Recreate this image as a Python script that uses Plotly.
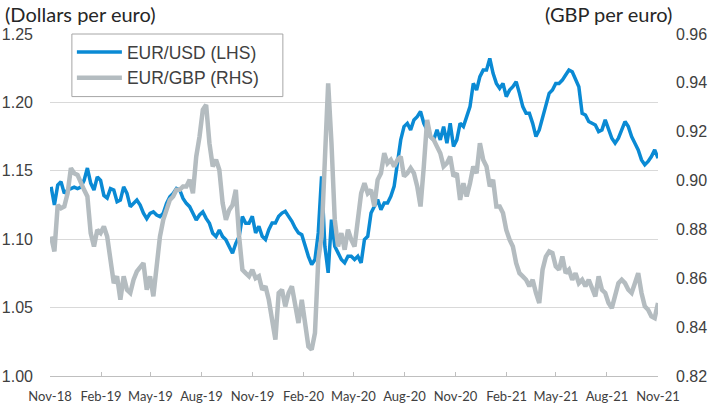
import pandas as pd
import plotly.graph_objects as go

# ---------------- data ----------------
start_date = "2018-11-03"
end_date = "2021-11-01"

eur_usd = [
    # Nov-18 .. May-19
    1.1383, 1.1250, 1.1395, 1.1420, 1.1335, 1.1360, 1.1370, 1.1380, 1.1370, 1.1380,
    1.1430, 1.1520, 1.1410, 1.1360, 1.1456, 1.1430, 1.1320, 1.1300, 1.1370, 1.1360,
    1.1274, 1.1286, 1.1383, 1.1335, 1.1238, 1.1260, 1.1286, 1.1250, 1.1190, 1.1150,
    # May-19 .. Oct-19
    1.1189, 1.1200, 1.1177, 1.1165, 1.1189, 1.1262, 1.1310, 1.1335, 1.1371, 1.1360,
    1.1298, 1.1262, 1.1238, 1.1189, 1.1140, 1.1177, 1.1200, 1.1152, 1.1116, 1.1043,
    1.1019, 1.1067, 1.1019, 1.0995, 1.0946, 1.0897, 1.0970, 1.1019, 1.1165, 1.1116,
    1.1116,
    # Oct-19 .. Apr-20
    1.1167, 1.1046, 1.1094, 1.1021, 1.0997, 1.1070, 1.1118, 1.1118, 1.1167, 1.1191,
    1.1204, 1.1167, 1.1131, 1.1082, 1.1046, 1.1033, 1.0948, 1.0875, 1.0815, 1.0851,
    1.1046, 1.1459, 1.0948, 1.0754, 1.1143, 1.0948, 1.0900, 1.0851, 1.0827, 1.0875,
    1.0875,
    # Apr-20 .. Oct-20
    1.0851, 1.0875, 1.0827, 1.0997, 1.1021, 1.1191, 1.1240, 1.1289, 1.1216, 1.1264,
    1.1264, 1.1313, 1.1386, 1.1580, 1.1726, 1.1823, 1.1847, 1.1799, 1.1872, 1.1896,
    1.1933, 1.1847, 1.1799, 1.1750, 1.1726, 1.1799, 1.1726, 1.1823, 1.1702, 1.1847,
    1.1677,
    # Oct-20 .. Apr-21
    1.1726, 1.1847, 1.1823, 1.1896, 1.1969, 1.2139, 1.2090, 1.2188, 1.2236, 1.2236,
    1.2321, 1.2212, 1.2139, 1.2103, 1.2139, 1.2042, 1.2090, 1.2115, 1.2151, 1.2066,
    1.1969, 1.1920, 1.1920, 1.1847, 1.1750, 1.1799, 1.1896, 1.1969, 1.2066, 1.2090,
    1.2139,
    # Apr-21 .. Nov-21
    1.2139, 1.2163, 1.2200, 1.2236, 1.2224, 1.2176, 1.2115, 1.1920, 1.1908, 1.1860,
    1.1847, 1.1835, 1.1787, 1.1799, 1.1872, 1.1799, 1.1738, 1.1702, 1.1738, 1.1799,
    1.1860, 1.1823, 1.1750, 1.1702, 1.1653, 1.1580, 1.1544, 1.1568, 1.1604, 1.1653,
    1.1592,
]

eur_gbp = [
    # Nov-18 .. May-19
    0.8771, 0.8710, 0.8900, 0.8887, 0.8894, 0.8948, 0.9051, 0.9030, 0.9023, 0.8989,
    0.8962, 0.8935, 0.8785, 0.8730, 0.8798, 0.8785, 0.8812, 0.8771, 0.8662, 0.8580,
    0.8608, 0.8512, 0.8608, 0.8553, 0.8540, 0.8594, 0.8628, 0.8649, 0.8662, 0.8553,
    # May-19 .. Oct-19
    0.8608, 0.8526, 0.8662, 0.8771, 0.8839, 0.8880, 0.8921, 0.8935, 0.8962, 0.8962,
    0.8976, 0.8976, 0.9003, 0.8948, 0.9098, 0.9180, 0.9290, 0.9310, 0.9153, 0.9058,
    0.9085, 0.9044, 0.8908, 0.8839, 0.8880, 0.8900, 0.8962, 0.8771, 0.8635, 0.8621,
    0.8608,
    # Oct-19 .. Apr-20
    0.8635, 0.8600, 0.8608, 0.8553, 0.8567, 0.8512, 0.8430, 0.8349, 0.8540, 0.8553,
    0.8485, 0.8540, 0.8567, 0.8485, 0.8417, 0.8512, 0.8417, 0.8321, 0.8308, 0.8376,
    0.8676, 0.8771, 0.9085, 0.9398, 0.9153, 0.8840, 0.8730, 0.8785, 0.8717, 0.8799,
    0.8758,
    # Apr-20 .. Oct-20
    0.8730, 0.8839, 0.8948, 0.8989, 0.8948, 0.8962, 0.8894, 0.9003, 0.9030, 0.9112,
    0.9071, 0.9085, 0.9058, 0.9085, 0.9098, 0.9017, 0.9030, 0.9051, 0.9030, 0.8976,
    0.8894, 0.9058, 0.9248, 0.9180, 0.9167, 0.9139, 0.9112, 0.9058, 0.9071, 0.9098,
    0.9017,
    # Oct-20 .. Apr-21
    0.9030, 0.8921, 0.8989, 0.8935, 0.8989, 0.9058, 0.9030, 0.9153, 0.9085, 0.9058,
    0.8976, 0.9003, 0.8894, 0.8894, 0.8867, 0.8798, 0.8758, 0.8730, 0.8662, 0.8621,
    0.8608, 0.8594, 0.8567, 0.8594, 0.8540, 0.8499, 0.8635, 0.8689, 0.8710, 0.8703,
    0.8649,
    # Apr-21 .. Nov-21
    0.8635, 0.8689, 0.8621, 0.8635, 0.8594, 0.8621, 0.8580, 0.8594, 0.8567, 0.8594,
    0.8553, 0.8526, 0.8608, 0.8553, 0.8540, 0.8499, 0.8478, 0.8526, 0.8580, 0.8594,
    0.8580, 0.8553, 0.8540, 0.8580, 0.8621, 0.8540, 0.8485, 0.8471, 0.8444, 0.8437,
    0.8499,
]

tick_dates = ["2018-11-01", "2019-02-01", "2019-05-01", "2019-08-01", "2019-11-01",
              "2020-02-01", "2020-05-01", "2020-08-01", "2020-11-01", "2021-02-01",
              "2021-05-01", "2021-08-01", "2021-11-01"]
tick_labels = ["Nov-18", "Feb-19", "May-19", "Aug-19", "Nov-19", "Feb-20", "May-20",
               "Aug-20", "Nov-20", "Feb-21", "May-21", "Aug-21", "Nov-21"]

left_ticks = [1.00, 1.05, 1.10, 1.15, 1.20, 1.25]
right_ticks = [0.82, 0.84, 0.86, 0.88, 0.90, 0.92, 0.94, 0.96]

series_names = ["EUR/USD (LHS)", "EUR/GBP (RHS)"]
left_title = "(Dollars per euro)"
right_title = "(GBP per euro)"

# ---------------- figure ----------------
dates = pd.date_range(start_date, end_date, periods=len(eur_usd))

BLUE = "#0a8ad4"
GREY = "#b4bcc0"
TXT = "#404040"

fig = go.Figure()
fig.add_trace(go.Scatter(x=dates, y=eur_usd, name=series_names[0], mode="lines",
                         line=dict(color=BLUE, width=3.5), yaxis="y"))
fig.add_trace(go.Scatter(x=dates, y=eur_gbp, name=series_names[1], mode="lines",
                         line=dict(color=GREY, width=4.5), yaxis="y2"))

# legend frame (white box with thin grey border, wider than the legend text)
fig.add_shape(type="rect", xref="paper", yref="paper",
              x0=0.036, x1=0.383, y0=0.817, y1=1.0, layer="above",
              fillcolor="white", line=dict(color="#a6a6a6", width=1))

fig.update_layout(
    width=709, height=405,
    margin=dict(l=50, r=51, t=34, b=29, autoexpand=False),
    paper_bgcolor="white", plot_bgcolor="white",
    font=dict(family="Liberation Sans, Arial, sans-serif", size=16, color=TXT),
    showlegend=True,
    legend=dict(x=0.036, y=1.0, xanchor="left", yanchor="top",
                bgcolor="rgba(0,0,0,0)", borderwidth=0,
                font=dict(family="Liberation Sans, Arial, sans-serif", size=17.5, color=TXT),
                itemwidth=45, tracegroupgap=0),
    xaxis=dict(type="date", range=["2018-11-01", "2021-11-01"],
               tickvals=tick_dates, ticktext=tick_labels, automargin=False,
               tickfont=dict(family="Lato, sans-serif", size=13, color=TXT),
               showgrid=False, showline=True, linecolor="#bfbfbf", linewidth=1,
               ticks="inside", ticklen=4, tickcolor="#bfbfbf", zeroline=False,
               ticklabelstandoff=8),
    yaxis=dict(range=[1.00, 1.25], tickvals=left_ticks, automargin=False,
               tickformat=".2f", showgrid=True, gridcolor="#d9d9d9", gridwidth=1,
               zeroline=False, showline=False, ticks="", ticklabelstandoff=16),
    yaxis2=dict(range=[0.82, 0.96], tickvals=right_ticks, tickformat=".2f",
                overlaying="y", side="right", showgrid=False, zeroline=False,
                automargin=False, showline=False, ticks="", ticklabelstandoff=17),
    annotations=[
        dict(text=left_title, xref="paper", yref="paper", x=-0.078, y=1.0,
             xanchor="left", yanchor="bottom", yshift=6, showarrow=False,
             font=dict(family="Lato, sans-serif", size=20, color="#262626")),
        dict(text=right_title, xref="paper", yref="paper", x=1.027, y=1.0,
             xanchor="right", yanchor="bottom", yshift=6, showarrow=False,
             font=dict(family="Lato, sans-serif", size=20, color="#262626")),
    ],
)

fig.write_html("out.html")
